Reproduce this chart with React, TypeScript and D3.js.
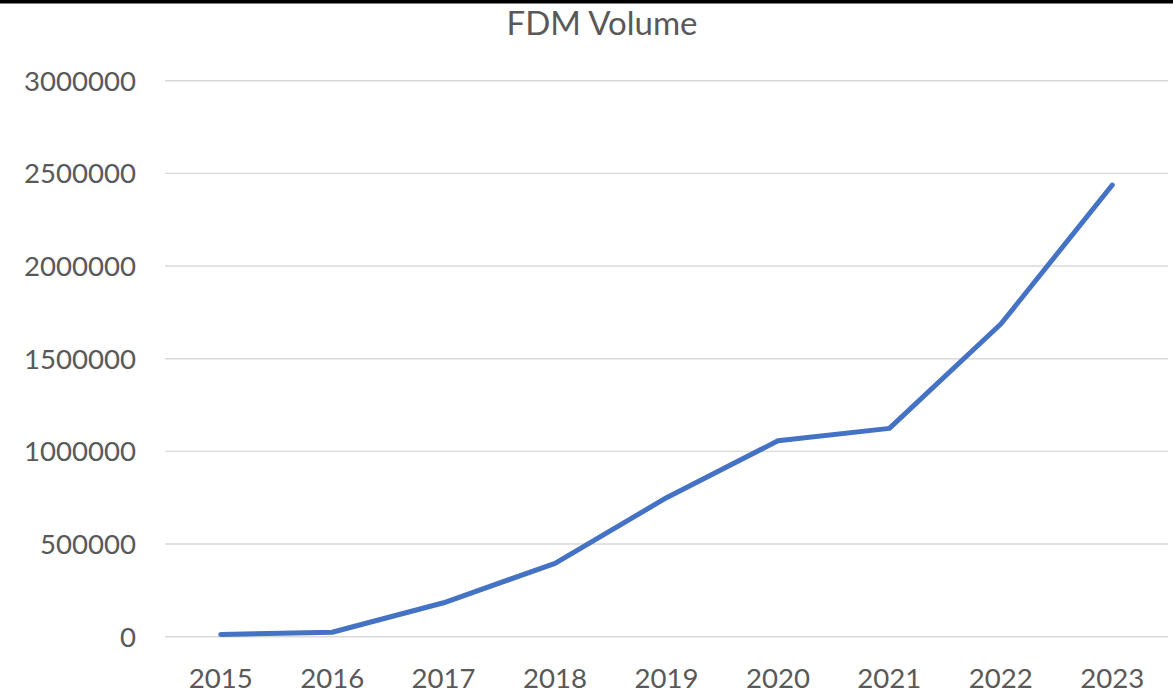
import React, { useEffect, useRef } from "react";
import * as d3 from "d3";

const title = "FDM Volume";
const years = ["2015", "2016", "2017", "2018", "2019", "2020", "2021", "2022", "2023"];
const volumes = [12000, 24000, 183000, 396000, 750000, 1057000, 1124000, 1687000, 2437000];
const yTicks = [0, 500000, 1000000, 1500000, 2000000, 2500000, 3000000];

const W = 1173;
const H = 694;
const FONT = "Lato, 'Open Sans', sans-serif";

export default function App() {
  const ref = useRef<SVGSVGElement | null>(null);

  useEffect(() => {
    const svg = d3.select(ref.current);
    svg.selectAll("*").remove();

    const x = d3.scaleBand<string>().domain(years).range([165, 1168]).padding(0);
    const y = d3.scaleLinear().domain([0, 3000000]).range([636.7, 80.7]);
    const cx = (d: string) => (x(d) as number) + x.bandwidth() / 2;

    svg.append("rect").attr("x", 0).attr("y", 0).attr("width", W).attr("height", H).attr("fill", "#ffffff");
    svg.append("rect").attr("x", 0).attr("y", 0).attr("width", W).attr("height", 3.5).attr("fill", "#000000");

    svg
      .append("text")
      .attr("x", 602)
      .attr("y", 35)
      .attr("text-anchor", "middle")
      .attr("fill", "#595959")
      .attr("font-family", FONT)
      .attr("font-size", 33)
      .text(title);

    const grid = svg.append("g");
    grid
      .selectAll("line")
      .data(yTicks)
      .join("line")
      .attr("x1", 165)
      .attr("x2", 1168)
      .attr("y1", (d) => y(d))
      .attr("y2", (d) => y(d))
      .attr("stroke", "#D9D9D9")
      .attr("stroke-width", 1.4);

    svg
      .append("g")
      .selectAll("text")
      .data(yTicks)
      .join("text")
      .attr("x", 136)
      .attr("y", (d) => y(d))
      .attr("dy", "0.36em")
      .attr("text-anchor", "end")
      .attr("fill", "#595959")
      .attr("font-family", FONT)
      .attr("font-size", 27.6)
      .text((d) => String(d));

    svg
      .append("g")
      .selectAll("text")
      .data(years)
      .join("text")
      .attr("x", (d) => cx(d))
      .attr("y", 688)
      .attr("text-anchor", "middle")
      .attr("fill", "#595959")
      .attr("font-family", FONT)
      .attr("font-size", 27.6)
      .text((d) => d);

    const line = d3
      .line<number>()
      .x((_, i) => cx(years[i]))
      .y((d) => y(d));

    svg
      .append("path")
      .datum(volumes)
      .attr("d", line)
      .attr("fill", "none")
      .attr("stroke", "#4472C4")
      .attr("stroke-width", 5)
      .attr("stroke-linejoin", "round")
      .attr("stroke-linecap", "round");
  }, []);

  return (
    <svg
      ref={ref}
      width={W}
      height={H}
      style={{ position: "absolute", left: 0, top: 0, display: "block" }}
    />
  );
}
